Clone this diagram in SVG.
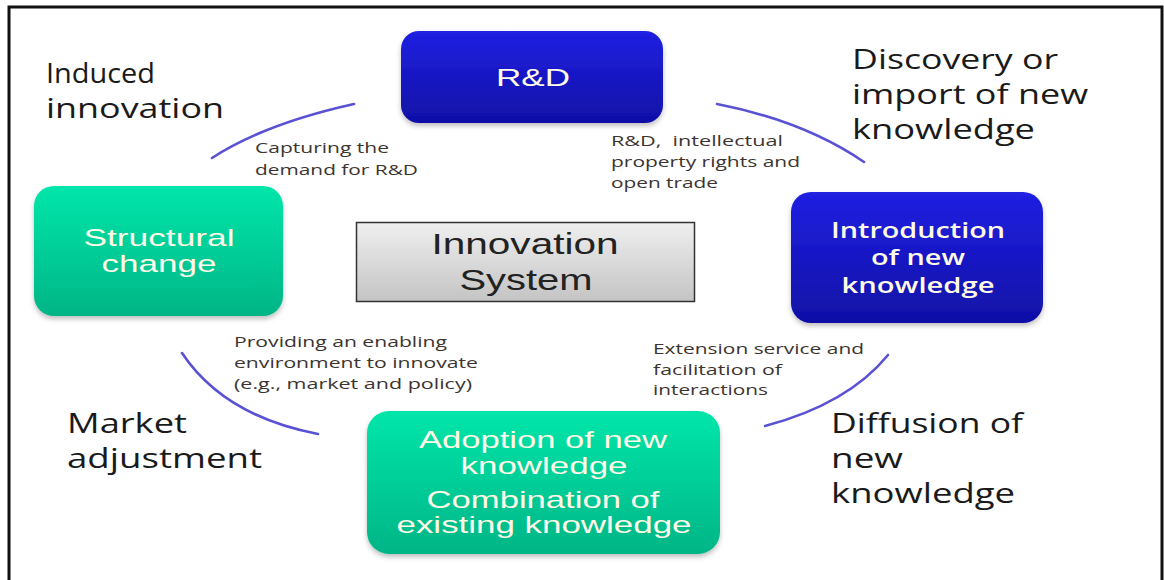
<svg xmlns="http://www.w3.org/2000/svg" width="1164" height="580" viewBox="0 0 1164 580">
  <defs>
    <linearGradient id="blueFill" x1="0" y1="0" x2="0" y2="1">
      <stop offset="0" stop-color="#2020e2"/>
      <stop offset="1" stop-color="#1010a6"/>
    </linearGradient>
    <linearGradient id="greenFill" x1="0" y1="0" x2="0" y2="1">
      <stop offset="0" stop-color="#00e6aa"/>
      <stop offset="1" stop-color="#00b586"/>
    </linearGradient>
    <linearGradient id="grayFill" x1="0" y1="0" x2="0" y2="1">
      <stop offset="0" stop-color="#efefef"/>
      <stop offset="1" stop-color="#c4c4c4"/>
    </linearGradient>
    <filter id="soft" x="-10%" y="-10%" width="120%" height="130%">
      <feDropShadow dx="0" dy="3" stdDeviation="2.5" flood-color="#000" flood-opacity="0.25"/>
    </filter>
  </defs>
  <style>
    .outer { font-family: "Open Sans", "Noto Sans", sans-serif; font-size: 27px; fill: #1a1a1a; }
    .note { font-family: "Open Sans", "Noto Sans", sans-serif; font-size: 15px; fill: #3c3430; }
    .boxText { font-family: "Liberation Sans", Arial, sans-serif; font-size: 24px; fill: #fffbe6; text-anchor: middle; }
    .boxTextAlt { font-family: "Open Sans", "Noto Sans", sans-serif; font-weight: 600; font-size: 21px; fill: #fffbe6; text-anchor: middle; }
    .center { font-family: "Liberation Sans", Arial, sans-serif; font-size: 29px; fill: #222; text-anchor: middle; }
    .link { fill: none; stroke: #5a52d4; stroke-width: 2.6; stroke-linecap: round; }
  </style>

  <rect x="0" y="0" width="1164" height="580" fill="#fff"/>
  <!-- frame -->
  <path d="M9 580 V7 H1162 V580" fill="none" stroke="#111" stroke-width="3"/>

  <!-- connectors -->
  <g id="connectors">
    <path class="link" d="M354 104 Q264 124 212 158"/>
    <path class="link" d="M717 104 Q804 121 864 162"/>
    <path class="link" d="M888 355 Q848 404 765 426"/>
    <path class="link" d="M182 353 Q224 416 318 434"/>
  </g>

  <g id="node-rd">
    <rect x="401" y="31" width="262" height="92" rx="18" fill="url(#blueFill)" filter="url(#soft)"/>
    <text class="boxText" x="533" y="86" textLength="74" lengthAdjust="spacingAndGlyphs">R&amp;D</text>
  </g>

  <g id="node-introduction">
    <rect x="791" y="192" width="252" height="131" rx="20" fill="url(#blueFill)" filter="url(#soft)"/>
    <text class="boxTextAlt" x="918" y="238" textLength="174" lengthAdjust="spacingAndGlyphs">Introduction</text>
    <text class="boxTextAlt" x="918" y="265" textLength="94" lengthAdjust="spacingAndGlyphs">of new</text>
    <text class="boxTextAlt" x="918" y="293" textLength="153" lengthAdjust="spacingAndGlyphs">knowledge</text>
  </g>

  <g id="node-structural">
    <rect x="34" y="186" width="249" height="130" rx="20" fill="url(#greenFill)" filter="url(#soft)"/>
    <text class="boxText" x="159" y="246" textLength="151" lengthAdjust="spacingAndGlyphs">Structural</text>
    <text class="boxText" x="159" y="272" textLength="115" lengthAdjust="spacingAndGlyphs">change</text>
  </g>

  <g id="node-adoption">
    <rect x="367" y="411" width="353" height="143" rx="22" fill="url(#greenFill)" filter="url(#soft)"/>
    <text class="boxText" x="543" y="448" textLength="248" lengthAdjust="spacingAndGlyphs">Adoption of new</text>
    <text class="boxText" x="544" y="474" textLength="167" lengthAdjust="spacingAndGlyphs">knowledge</text>
    <text class="boxText" x="543" y="508" textLength="233" lengthAdjust="spacingAndGlyphs">Combination of</text>
    <text class="boxText" x="544" y="533" textLength="295" lengthAdjust="spacingAndGlyphs">existing knowledge</text>
  </g>

  <g id="node-system">
    <rect x="356.5" y="222.5" width="338" height="79" fill="url(#grayFill)" stroke="#333" stroke-width="1.5"/>
    <text class="center" x="525" y="254" textLength="187" lengthAdjust="spacingAndGlyphs">Innovation</text>
    <text class="center" x="526" y="290" textLength="133" lengthAdjust="spacingAndGlyphs">System</text>
  </g>

  <!-- stage labels -->
  <g id="label-induced">
    <text class="outer" x="46" y="83" textLength="109" lengthAdjust="spacingAndGlyphs">Induced</text>
    <text class="outer" x="46" y="118" textLength="178" lengthAdjust="spacingAndGlyphs">innovation</text>
  </g>
  <g id="label-discovery">
    <text class="outer" x="852" y="69" textLength="206" lengthAdjust="spacingAndGlyphs">Discovery or</text>
    <text class="outer" x="852" y="104" textLength="236" lengthAdjust="spacingAndGlyphs">import of new</text>
    <text class="outer" x="852" y="139" textLength="183" lengthAdjust="spacingAndGlyphs">knowledge</text>
  </g>
  <g id="label-market">
    <text class="outer" x="67" y="433" textLength="120" lengthAdjust="spacingAndGlyphs">Market</text>
    <text class="outer" x="67" y="468" textLength="195" lengthAdjust="spacingAndGlyphs">adjustment</text>
  </g>
  <g id="label-diffusion">
    <text class="outer" x="831" y="433" textLength="192" lengthAdjust="spacingAndGlyphs">Diffusion of</text>
    <text class="outer" x="831" y="468" textLength="72" lengthAdjust="spacingAndGlyphs">new</text>
    <text class="outer" x="831" y="503" textLength="184" lengthAdjust="spacingAndGlyphs">knowledge</text>
  </g>

  <!-- connector notes -->
  <g id="note-capturing">
    <text class="note" x="255" y="153" textLength="134" lengthAdjust="spacingAndGlyphs">Capturing the</text>
    <text class="note" x="255" y="175" textLength="163" lengthAdjust="spacingAndGlyphs">demand for R&amp;D</text>
  </g>
  <g id="note-rd">
    <text class="note" x="611" y="146" textLength="172" lengthAdjust="spacingAndGlyphs" xml:space="preserve">R&amp;D,  intellectual</text>
    <text class="note" x="611" y="167" textLength="189" lengthAdjust="spacingAndGlyphs">property rights and</text>
    <text class="note" x="611" y="188" textLength="107" lengthAdjust="spacingAndGlyphs">open trade</text>
  </g>
  <g id="note-providing">
    <text class="note" x="234" y="347" textLength="213" lengthAdjust="spacingAndGlyphs">Providing an enabling</text>
    <text class="note" x="234" y="368" textLength="244" lengthAdjust="spacingAndGlyphs">environment to innovate</text>
    <text class="note" x="234" y="389" textLength="238" lengthAdjust="spacingAndGlyphs">(e.g., market and policy)</text>
  </g>
  <g id="note-extension">
    <text class="note" x="653" y="354" textLength="211" lengthAdjust="spacingAndGlyphs">Extension service and</text>
    <text class="note" x="653" y="375" textLength="129" lengthAdjust="spacingAndGlyphs">facilitation of</text>
    <text class="note" x="653" y="395" textLength="115" lengthAdjust="spacingAndGlyphs">interactions</text>
  </g>
</svg>
